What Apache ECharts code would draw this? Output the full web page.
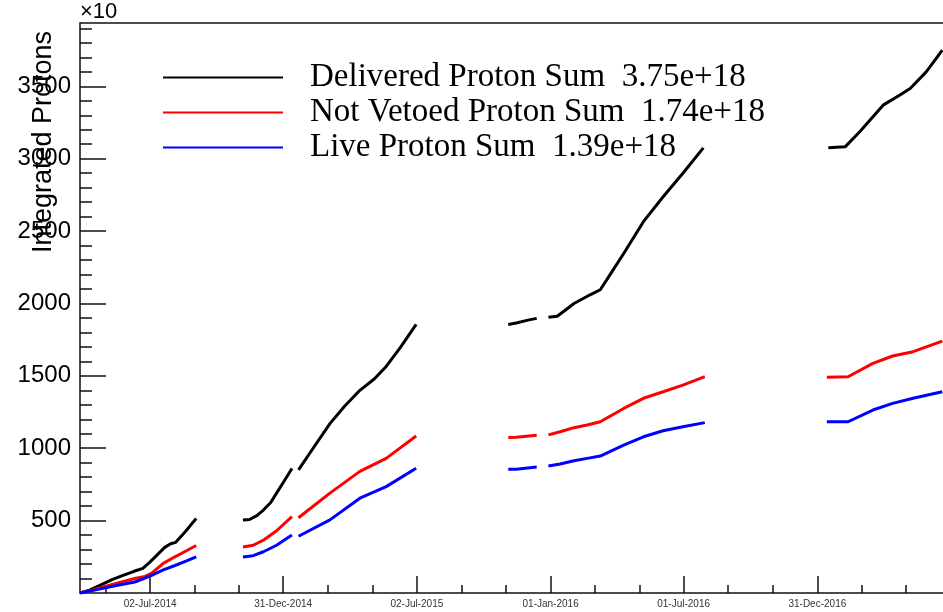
<!DOCTYPE html>
<html>
<head>
<meta charset="utf-8">
<title>Integrated Protons</title>
<script src="https://cdn.jsdelivr.net/npm/echarts@6.0.0/dist/echarts.min.js"></script>
<style>
  html, body { margin: 0; padding: 0; background: #fff; }
  #chart { width: 943px; height: 612px; }
</style>
</head>
<body>
<div id="chart"></div>
<script>
// series names (legend text)
const seriesNames = [
  'Delivered Proton Sum  3.75e+18',
  'Not Vetoed Proton Sum  1.74e+18',
  'Live Proton Sum  1.39e+18'
]

// integrated protons (x10^15), null = no beam / gap
const deliveredDates = [
  '2014-03-28', '2014-04-10', '2014-04-25', '2014-05-10', '2014-05-25', '2014-06-10', '2014-06-22',
  '2014-07-02', '2014-07-12', '2014-07-22', '2014-07-30', '2014-08-06', '2014-08-15', '2014-08-25', '2014-09-03',
  '2014-10-01',
  '2014-11-06', '2014-11-15', '2014-11-25', '2014-12-04', '2014-12-14', '2014-12-22', '2015-01-01', '2015-01-12',
  '2015-01-16',
  '2015-01-21', '2015-02-10', '2015-03-05', '2015-03-25', '2015-04-15', '2015-05-05', '2015-05-21', '2015-06-10', '2015-07-01',
  '2015-09-01',
  '2015-11-04', '2015-11-15', '2015-12-01', '2015-12-13',
  '2015-12-20',
  '2015-12-29', '2016-01-10', '2016-01-20', '2016-02-02', '2016-02-24', '2016-03-09', '2016-03-25', '2016-04-10',
  '2016-05-07', '2016-06-03', '2016-06-30', '2016-07-28',
  '2016-10-01',
  '2017-01-15', '2017-02-07', '2017-02-27', '2017-03-31', '2017-04-23', '2017-05-07', '2017-05-29', '2017-06-20'
]
const deliveredValues = [
  0, 20, 55, 90, 120, 150, 170,
  215, 265, 315, 340, 350, 400, 460, 515,
  null,
  504, 508, 535, 573, 625, 690, 770, 860,
  null,
  850, 1000, 1170, 1290, 1400, 1480, 1565, 1700, 1855,
  null,
  1855, 1865, 1885, 1897,
  null,
  1905, 1912, 1950, 2000, 2060, 2095, 2220, 2345,
  2565, 2737, 2900, 3075,
  null,
  3075, 3082, 3186, 3370, 3440, 3485, 3600, 3750
]

const notVetoedDates = [
  '2014-03-28', '2014-04-17', '2014-05-15', '2014-06-11', '2014-06-25', '2014-07-05', '2014-07-20', '2014-08-05',
  '2014-08-20', '2014-09-03',
  '2014-10-01',
  '2014-11-06', '2014-11-20', '2014-12-04', '2014-12-22', '2015-01-12',
  '2015-01-16',
  '2015-01-21', '2015-03-05', '2015-04-15', '2015-05-21', '2015-07-01',
  '2015-09-01',
  '2015-11-04', '2015-11-15', '2015-12-13',
  '2015-12-20',
  '2015-12-29', '2016-01-14', '2016-02-02', '2016-02-20', '2016-03-09', '2016-04-10', '2016-05-07', '2016-06-03',
  '2016-06-30', '2016-07-30',
  '2016-10-01',
  '2017-01-13', '2017-02-11', '2017-03-17', '2017-04-13', '2017-05-11', '2017-06-20'
]
const notVetoedValues = [
  0, 25, 65, 100, 115, 140, 205, 250,
  290, 328,
  null,
  318, 330, 365, 430, 527,
  null,
  520, 690, 840, 930, 1085,
  null,
  1075, 1076, 1090,
  null,
  1092, 1114, 1142, 1160, 1183, 1275, 1345, 1390,
  1436, 1495,
  null,
  1490, 1494, 1586, 1637, 1667, 1740
]

const liveDates = [
  '2014-03-28', '2014-04-17', '2014-05-15', '2014-06-11', '2014-07-01', '2014-07-20', '2014-08-05', '2014-08-20',
  '2014-09-03',
  '2014-10-01',
  '2014-11-06', '2014-11-20', '2014-12-04', '2014-12-22', '2015-01-12',
  '2015-01-16',
  '2015-01-21', '2015-03-05', '2015-04-15', '2015-05-21', '2015-07-01',
  '2015-09-01',
  '2015-11-04', '2015-11-15', '2015-12-13',
  '2015-12-20',
  '2015-12-29', '2016-01-14', '2016-02-02', '2016-02-20', '2016-03-09', '2016-04-10', '2016-05-07', '2016-06-03',
  '2016-06-30', '2016-07-30',
  '2016-10-01',
  '2017-01-13', '2017-02-11', '2017-03-17', '2017-04-13', '2017-05-11', '2017-06-20'
]
const liveValues = [
  0, 20, 50, 76, 115, 160, 190, 220,
  250,
  null,
  248, 258, 285, 330, 400,
  null,
  392, 505, 655, 735, 862,
  null,
  854, 855, 870,
  null,
  877, 891, 914, 930, 946, 1022, 1079, 1121,
  1149, 1177,
  null,
  1183, 1183, 1264, 1310, 1345, 1390
]

// axis ticks (last x tick lies past the right edge, no label)
const xMajorTicks = ['2014-07-02', '2014-12-31', '2015-07-02', '2016-01-01', '2016-07-01', '2016-12-31', '2017-07-01']
const xLabelTicks = ['2014-07-02', '2014-12-31', '2015-07-02', '2016-01-01', '2016-07-01', '2016-12-31']
const yMajorTicks = [500, 1000, 1500, 2000, 2500, 3000, 3500]

const xMin = Date.parse('2014-03-28')
const xMax = Date.parse('2017-08-01')
const yMax = 3937.5

const months = ['Jan', 'Feb', 'Mar', 'Apr', 'May', 'Jun', 'Jul', 'Aug', 'Sep', 'Oct', 'Nov', 'Dec']
const fmtDate = (t) => {
  const d = new Date(t)
  const dd = String(d.getUTCDate()).padStart(2, '0')
  return dd + '-' + months[d.getUTCMonth()] + '-' + d.getUTCFullYear()
}

const toPoints = (dates, values) => dates.map((d, i) => [Date.parse(d), values[i] == null ? '-' : values[i]])

const xMajor = xMajorTicks.map(d => Date.parse(d))
// two minor ticks between majors (ROOT style)
const xMinor = []
for (let i = 0; i < xMajor.length - 1; i++) {
  const step = (xMajor[i + 1] - xMajor[i]) / 3
  xMinor.push(xMajor[i] + step, xMajor[i] + 2 * step)
  if (i === 0) xMinor.push(xMajor[0] - step, xMajor[0] - 2 * step)
}
const xMinorIn = xMinor.filter(v => v > xMin && v < xMax)
const yMinor = []
for (let v = 100; v < yMax; v += 100) {
  if (v % 500 !== 0) yMinor.push(v)
}

const colors = ['#000000', '#ff0000', '#0000ff']
const lines = [
  toPoints(deliveredDates, deliveredValues),
  toPoints(notVetoedDates, notVetoedValues),
  toPoints(liveDates, liveValues)
]

const myChart = echarts.init(document.getElementById('chart'))
myChart.setOption({
  animation: false,
  backgroundColor: '#fff',
  grid: {
    left: 80,
    top: 23,
    right: -30,
    bottom: 19,
    containLabel: false,
    outerBoundsMode: 'none',
    show: true,
    borderColor: '#111',
    borderWidth: 1.5,
    backgroundColor: 'transparent'
  },
  legend: {
    orient: 'vertical',
    left: 163,
    top: 60,
    padding: 0,
    itemWidth: 120,
    itemHeight: 2,
    itemGap: 0,
    icon: 'rect',
    selectedMode: false,
    textStyle: {
      fontFamily: 'Liberation Serif',
      fontSize: 33,
      color: '#000',
      lineHeight: 35,
      padding: [0, 0, 0, 22]
    },
    data: seriesNames
  },
  xAxis: [{
    type: 'value',
    min: xMin,
    max: xMax,
    axisLine: { show: false },
    splitLine: { show: false },
    axisTick: {
      inside: true,
      length: 17,
      customValues: xMajor,
      lineStyle: { color: '#111', width: 1.5 }
    },
    axisLabel: {
      customValues: xLabelTicks.map(d => Date.parse(d)),
      formatter: (v) => fmtDate(v),
      fontFamily: 'Liberation Sans',
      fontSize: 10,
      color: '#333',
      margin: 6
    }
  }, {
    type: 'value',
    position: 'bottom',
    min: xMin,
    max: xMax,
    axisLine: { show: false },
    splitLine: { show: false },
    axisLabel: { show: false },
    axisTick: {
      inside: true,
      length: 8,
      customValues: xMinorIn,
      lineStyle: { color: '#111', width: 1.5 }
    }
  }],
  yAxis: [{
    type: 'value',
    min: 0,
    max: yMax,
    axisLine: { show: false },
    splitLine: { show: false },
    axisTick: {
      inside: true,
      length: 26,
      customValues: yMajorTicks,
      lineStyle: { color: '#111', width: 1.5 }
    },
    axisLabel: {
      customValues: yMajorTicks,
      formatter: (v) => String(v),
      fontFamily: 'Liberation Sans',
      fontSize: 24,
      color: '#000',
      margin: 9
    }
  }, {
    type: 'value',
    position: 'left',
    min: 0,
    max: yMax,
    axisLine: { show: false },
    splitLine: { show: false },
    axisLabel: { show: false },
    axisTick: {
      inside: true,
      length: 12,
      customValues: yMinor,
      lineStyle: { color: '#111', width: 1.5 }
    }
  }],
  graphic: [{
    type: 'text',
    left: 80,
    top: 1,
    style: {
      text: '×10',
      font: '22px Liberation Sans',
      fill: '#000'
    }
  }, {
    type: 'text',
    x: 44,
    y: 142,
    rotation: Math.PI / 2,
    style: {
      text: 'Integrated Protons',
      font: '27px Liberation Sans',
      fill: '#000',
      align: 'center',
      verticalAlign: 'middle'
    }
  }],
  series: lines.map((data, i) => ({
    name: seriesNames[i],
    type: 'line',
    xAxisIndex: 0,
    yAxisIndex: 0,
    data,
    color: colors[i],
    showSymbol: false,
    connectNulls: false,
    lineStyle: { width: 3, color: colors[i] }
  }))
})
</script>
</body>
</html>
